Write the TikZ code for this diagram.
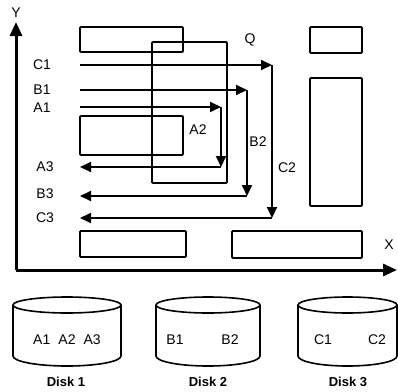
\documentclass[tikz,border=0pt]{standalone}
\usepackage{fontspec}
\setmainfont{Liberation Sans}
\usetikzlibrary{arrows.meta}
\begin{document}
\begin{tikzpicture}[x=1pt,y=-1pt,
  box/.style={draw,line width=1.8pt,rounded corners=1pt},
  flow/.style={line width=2pt,-{Triangle[length=11pt,width=10pt]}},
  lbl/.style={font=\fontsize{14}{14}\selectfont, inner sep=0pt},
  disklbl/.style={font=\bfseries\fontsize{13}{13}\selectfont, inner sep=0pt},
  disk/.style={line width=1.6pt},
  axis/.style={line width=3pt,-{Triangle[length=14pt,width=12pt]}}]
\useasboundingbox (0,0) rectangle (398,391);
% rectangles
\draw[box] (80,27) rectangle (183,52);
\draw[box] (80,116) rectangle (183,155);
\draw[box] (152,42) rectangle (227,183);
\draw[box] (310,27) rectangle (362,53);
\draw[box] (310,78) rectangle (362,206);
\draw[box] (80,231) rectangle (186,257);
\draw[box] (232,231) rectangle (362,258);
% axes
\coordinate (O) at (16,270);
\coordinate (ytip) at (16,22);
\coordinate (xtip) at (397,270);
\draw[axis] (O) -- (ytip);
\draw[axis] (O) -- (xtip);
\node[lbl] (Y) at (16,13) {Y};
\node[lbl] (X) at (389,245) {X};
\node[lbl] (Q) at (250,40) {Q};
% flow coordinates
\coordinate (c1s) at (80,65);  \coordinate (c1c) at (272,65);
\coordinate (c2c) at (272,218); \coordinate (c3e) at (80,218);
\coordinate (b1s) at (80,90);  \coordinate (b1c) at (247,90);
\coordinate (b2c) at (247,196); \coordinate (b3e) at (80,196);
\coordinate (a1s) at (80,107); \coordinate (a1c) at (221,107);
\coordinate (a2c) at (221,167); \coordinate (a3e) at (80,167);
\draw[flow] (c1s) -- (c1c);
\draw[flow] (c1c) -- (c2c);
\draw[flow] (c2c) -- (c3e);
\draw[flow] (b1s) -- (b1c);
\draw[flow] (b1c) -- (b2c);
\draw[flow] (b2c) -- (b3e);
\draw[flow] (a1s) -- (a1c);
\draw[flow] (a1c) -- (a2c);
\draw[flow] (a2c) -- (a3e);
% labels
\node[lbl] (C1) at (42,65) {C1};
\node[lbl] (B1) at (42,90) {B1};
\node[lbl] (A1) at (42,108) {A1};
\node[lbl] (A3) at (45,167) {A3};
\node[lbl] (B3) at (45,194) {B3};
\node[lbl] (C3) at (45,218) {C3};
\node[lbl] (A2) at (198,130) {A2};
\node[lbl] (B2) at (258,142) {B2};
\node[lbl] (C2) at (287,168) {C2};
% disks
\draw[disk] (67,305) ellipse[x radius=54,y radius=8];
\draw[disk] (13,305) -- (13,356) arc[start angle=180,end angle=0,x radius=54,y radius=10] -- (121,305);
\draw[disk] (208,305) ellipse[x radius=52,y radius=8];
\draw[disk] (156,305) -- (156,356) arc[start angle=180,end angle=0,x radius=52,y radius=10] -- (260,305);
\draw[disk] (347.5,305) ellipse[x radius=49.5,y radius=8];
\draw[disk] (298,305) -- (298,356) arc[start angle=180,end angle=0,x radius=49.5,y radius=10] -- (397,305);
\node[lbl] (d1t) at (67,340) {A1\hspace{0.3em} A2\hspace{0.3em} A3};
\node[lbl] (d2a) at (175,340) {B1};
\node[lbl] (d2b) at (230,340) {B2};
\node[lbl] (d3a) at (323,340) {C1};
\node[lbl] (d3b) at (377,340) {C2};
\node[disklbl] (D1) at (66,382) {Disk 1};
\node[disklbl] (D2) at (208,382) {Disk 2};
\node[disklbl] (D3) at (348,382) {Disk 3};
\end{tikzpicture}
\end{document}
